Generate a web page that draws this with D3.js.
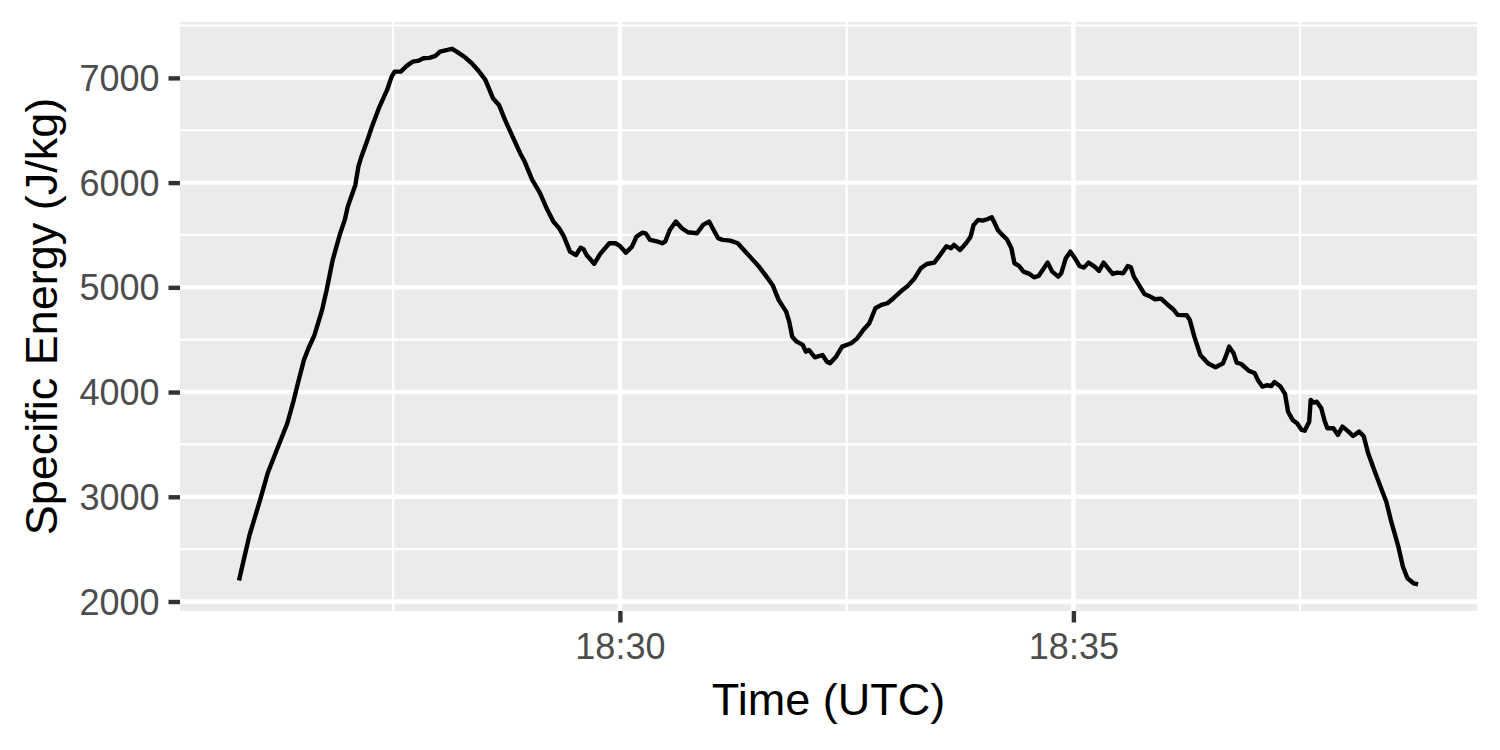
<!DOCTYPE html>
<html><head><meta charset="utf-8">
<script src="https://cdn.jsdelivr.net/npm/d3@7"></script>
<style>
body{margin:0;background:#fff}
text{font-family:"Liberation Sans",Arial,Helvetica,sans-serif}
</style>
</head><body><svg id="chart" width="1500" height="750"></svg>
<script>
// Seconds after 18:25:00 UTC
const baseTime = Date.UTC(2024, 0, 1, 18, 25, 0);
const seconds = [48,55,62,67,73,80,84,87,91,94,98,103,106,110,115,118,120,125,127,129,133,136,141,146,149,151,155,159,163,167,170,174,178,181,186,189,192,197,202,206,211,216,220,224,230,234,237,242,247,252,256,260,263,267,271,274,276,278,283,287,293,297,300,304,308,311,315,317,320,325,328,330,333,337,341,345,351,355,359,362,365,368,373,378,382,386,392,397,401,405,410,412,414,417,421,423,425,429,434,437,439,443,447,453,457,461,465,469,473,477,481,487,490,495,499,503,508,511,516,519,521,525,529,532,534,537,540,543,546,548,550,553,556,559,561,564,567,571,574,577,580,583,586,590,592,595,598,601,604,607,610,614,617,620,623,626,629,633,636,638,640,644,647,650,654,658,662,666,669,675,677,680,684,689,694,699,702,703,706,708,711,716,720,722,725,728,731,733,737,740,742,745,748,751,753,756,757,759,761,764,766,768,772,775,778,782,785,789,792,795,799,804,807,810,815,818,821,825,828];
// Specific energy (J/kg)
const energy = [2200,2635,2970,3224,3447,3702,3910,4084,4307,4418,4545,4784,4975,5261,5517,5644,5771,5978,6153,6248,6408,6535,6726,6885,7012,7060,7060,7115,7156,7165,7188,7191,7210,7251,7267,7278,7251,7203,7140,7076,6981,6806,6742,6599,6408,6281,6201,6026,5905,5740,5628,5560,5484,5341,5309,5378,5364,5309,5225,5320,5421,5421,5395,5331,5389,5484,5522,5516,5453,5437,5421,5437,5548,5628,5564,5526,5516,5596,5628,5548,5469,5453,5446,5421,5357,5293,5198,5102,5023,4880,4768,4672,4529,4481,4450,4386,4402,4332,4354,4290,4275,4338,4434,4466,4513,4593,4657,4800,4832,4848,4896,4975,5007,5087,5182,5223,5236,5293,5392,5373,5405,5357,5421,5484,5596,5644,5637,5650,5669,5612,5548,5500,5459,5373,5230,5204,5150,5128,5096,5109,5173,5236,5150,5102,5135,5278,5341,5278,5204,5188,5236,5198,5157,5236,5182,5128,5140,5135,5204,5192,5102,5007,4937,4918,4886,4892,4839,4791,4737,4734,4689,4529,4354,4275,4237,4275,4386,4434,4370,4281,4268,4204,4179,4116,4052,4065,4058,4096,4052,3982,3813,3734,3702,3638,3631,3717,3925,3899,3908,3845,3734,3654,3654,3590,3670,3622,3580,3622,3580,3415,3256,3065,2953,2778,2523,2332,2222,2174,2165];
const yTickValues = [2000,3000,4000,5000,6000,7000];
const yMinorValues = [2500,3500,4500,5500,6500,7500];
const xTickLabels = ["18:30","18:35"];
const xMinorLabels = ["18:27:30","18:32:30","18:37:30"];
const xTitle = "Time (UTC)";
const yTitle = "Specific Energy (J/kg)";

const W = 1500, H = 750;
const margin = {left: 180, right: 23, top: 22, bottom: 139};
const pw = W - margin.left - margin.right, ph = H - margin.top - margin.bottom;

const toDate = s => new Date(baseTime + s * 1000);
const parseHM = str => {
  const p = str.split(":").map(Number);
  return new Date(Date.UTC(2024, 0, 1, p[0], p[1], p[2] || 0));
};
const data = seconds.map((s, i) => ({t: toDate(s), v: energy[i]}));

const tExt = d3.extent(data, d => +d.t), vExt = d3.extent(data, d => d.v);
const tPad = (tExt[1] - tExt[0]) * 0.05, vPad = (vExt[1] - vExt[0]) * 0.05;
const x = d3.scaleUtc().domain([new Date(tExt[0] - tPad), new Date(tExt[1] + tPad)]).range([0, pw]);
const y = d3.scaleLinear().domain([vExt[0] - vPad, vExt[1] + vPad]).range([ph, 0]);

const svg = d3.select("#chart");
svg.append("rect").attr("width", W).attr("height", H).attr("fill", "#fff");
const g = svg.append("g").attr("transform", `translate(${margin.left},${margin.top})`);

g.append("rect").attr("width", pw).attr("height", ph).attr("fill", "#EBEBEB");

const inY = v => v >= y.domain()[0] && v <= y.domain()[1];
const xMinor = xMinorLabels.map(parseHM);
const xMajor = xTickLabels.map(parseHM);

// minor grid
g.selectAll(".ymin").data(yMinorValues.filter(inY)).join("line")
  .attr("x1", 0).attr("x2", pw).attr("y1", d => y(d)).attr("y2", d => y(d))
  .attr("stroke", "#fff").attr("stroke-width", 2.2);
g.selectAll(".xmin").data(xMinor).join("line")
  .attr("y1", 0).attr("y2", ph).attr("x1", d => x(d)).attr("x2", d => x(d))
  .attr("stroke", "#fff").attr("stroke-width", 2.2);
// major grid
g.selectAll(".ymaj").data(yTickValues).join("line")
  .attr("x1", 0).attr("x2", pw).attr("y1", d => y(d)).attr("y2", d => y(d))
  .attr("stroke", "#fff").attr("stroke-width", 4.4);
g.selectAll(".xmaj").data(xMajor).join("line")
  .attr("y1", 0).attr("y2", ph).attr("x1", d => x(d)).attr("x2", d => x(d))
  .attr("stroke", "#fff").attr("stroke-width", 4.4);

// line
const line = d3.line().x(d => x(d.t)).y(d => y(d.v));
g.append("path").datum(data).attr("d", line)
  .attr("fill", "none").attr("stroke", "#000").attr("stroke-width", 4.4)
  .attr("stroke-linejoin", "round");

// axes
const fmt = d3.utcFormat("%H:%M");
const xAxis = d3.axisBottom(x).tickValues(xMajor).tickFormat(fmt).tickSize(11.5).tickPadding(9);
const yAxis = d3.axisLeft(y).tickValues(yTickValues).tickFormat(d3.format("d")).tickSize(11.5).tickPadding(9);
const gx = g.append("g").attr("transform", `translate(0,${ph})`).call(xAxis);
const gy = g.append("g").call(yAxis);
[gx, gy].forEach(a => {
  a.select(".domain").remove();
  a.selectAll(".tick line").attr("stroke", "#333333").attr("stroke-width", 4.4);
  a.selectAll(".tick text").attr("fill", "#4D4D4D").style("font-size", "36px")
    .style("font-family", '"Liberation Sans",Arial,Helvetica,sans-serif');
});
gx.selectAll(".tick text").attr("dy", null).attr("y", 48);
gy.selectAll(".tick text").attr("dy", "0.35em");

svg.append("text").attr("x", margin.left + pw / 2).attr("y", 715)
  .attr("text-anchor", "middle").style("font-size", "45px").attr("fill", "#000").text(xTitle);
svg.append("text").attr("transform", `translate(57,${margin.top + ph / 2}) rotate(-90)`)
  .attr("text-anchor", "middle").style("font-size", "45px").attr("fill", "#000").text(yTitle);
</script>
</body></html>
